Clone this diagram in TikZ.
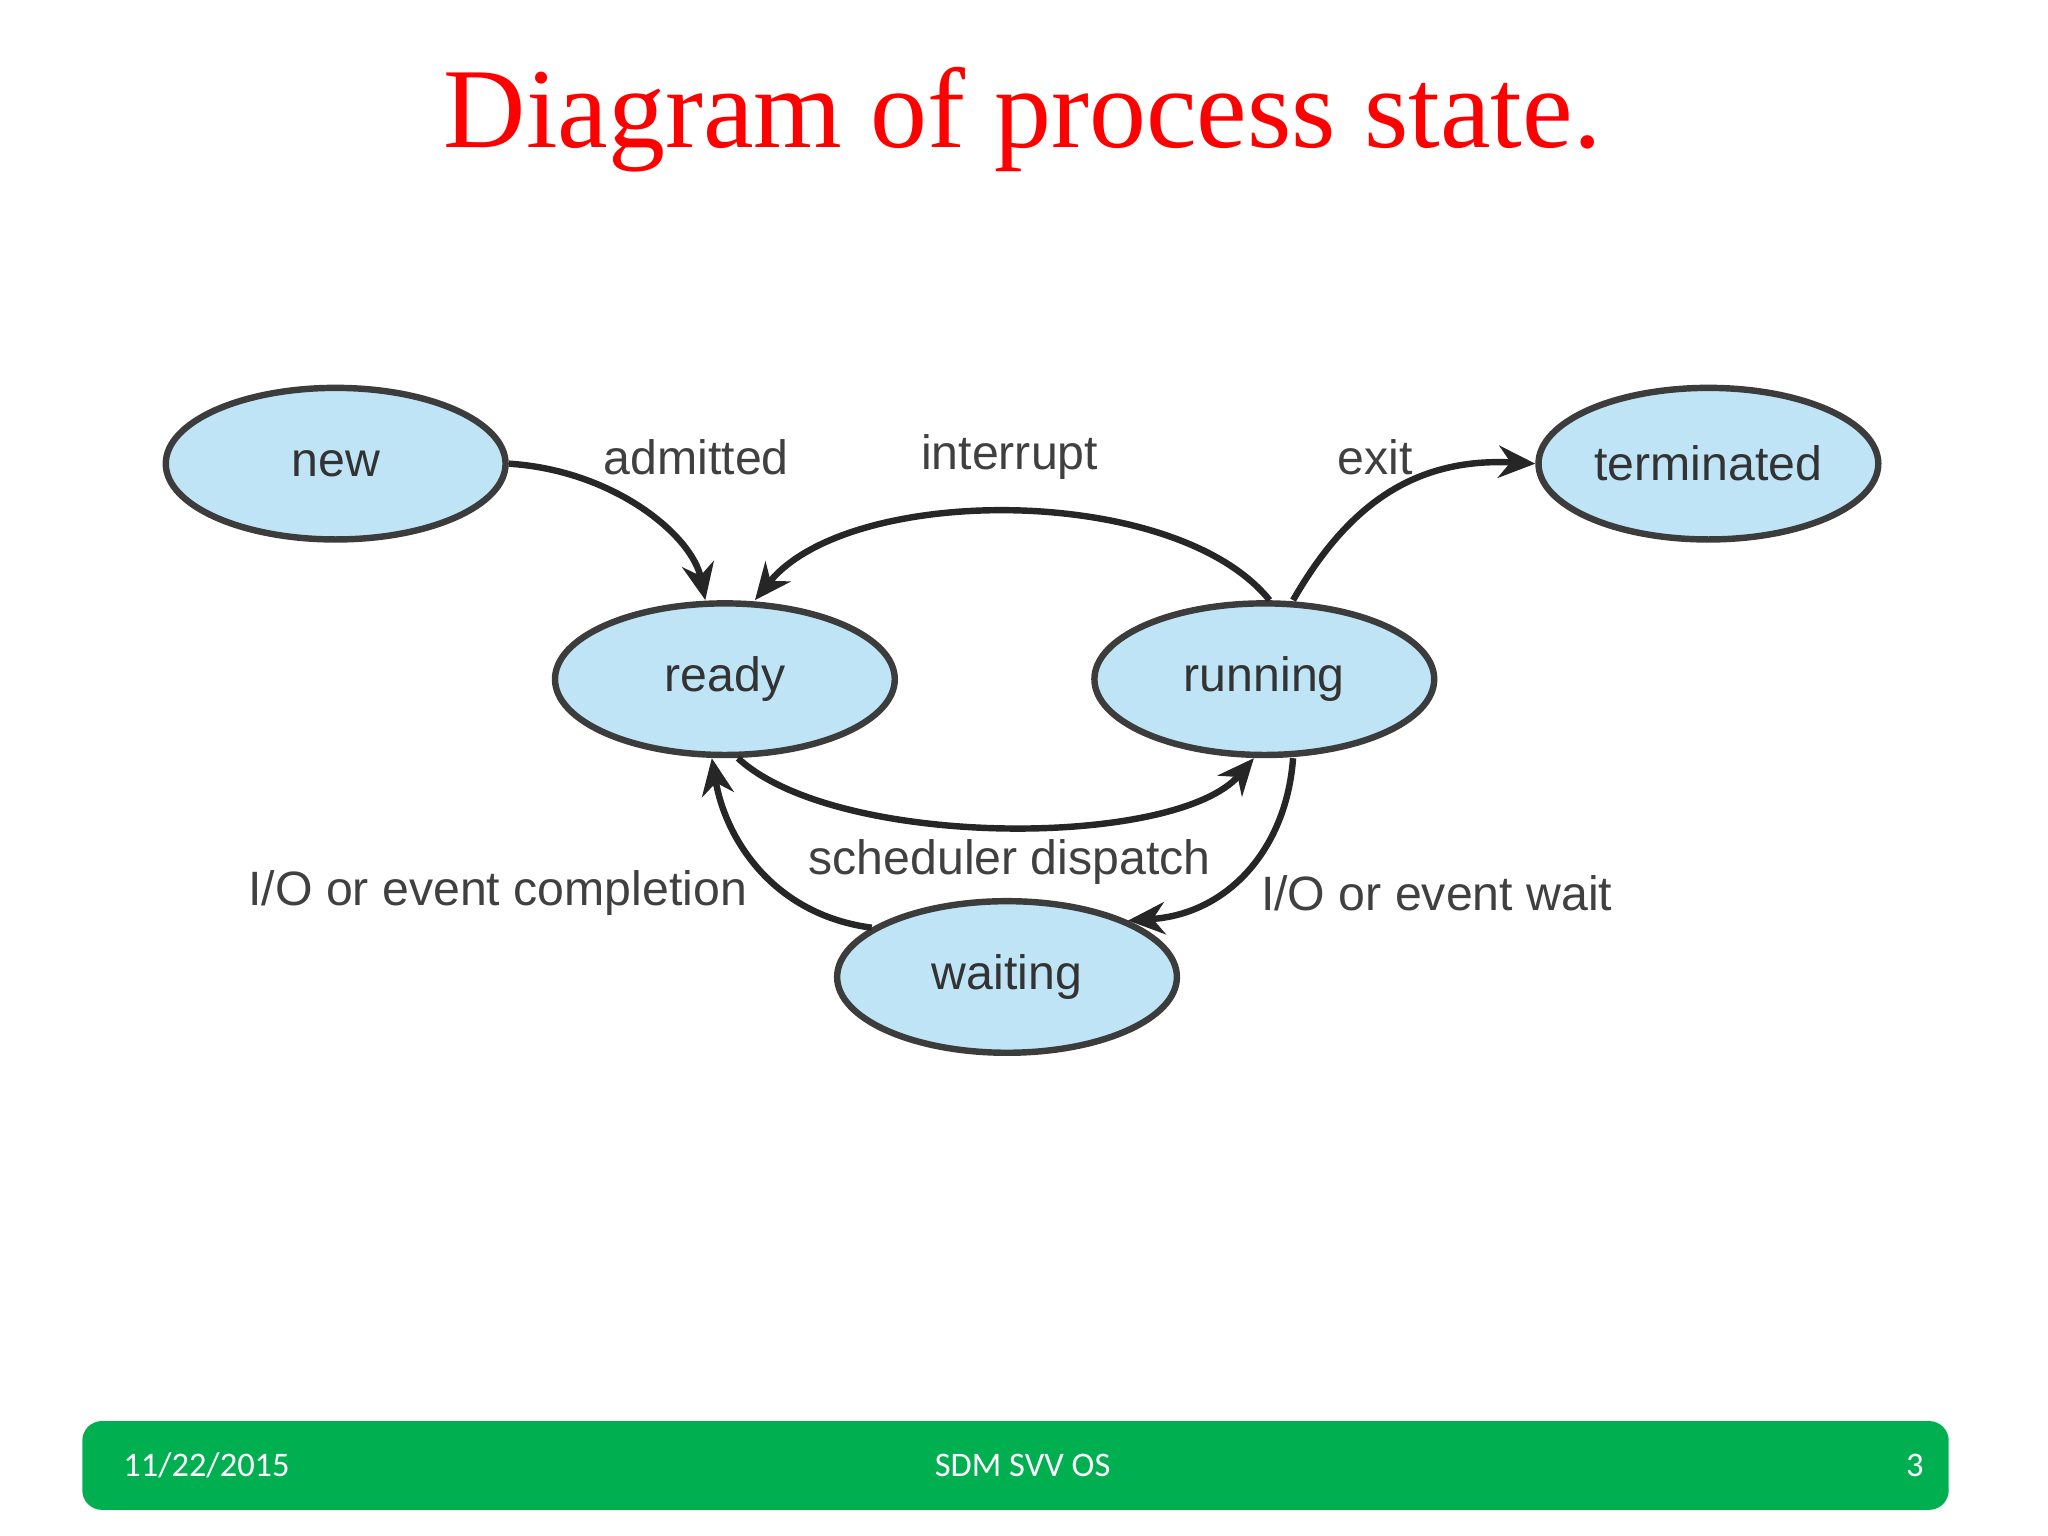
\documentclass[tikz,border=0pt]{standalone}
\usepackage{fontspec}
\setmainfont{Liberation Serif}
\newfontfamily\arialf{Liberation Sans}
\newfontfamily\carf{Carlito}
\usetikzlibrary{shapes.geometric,arrows.meta}
\definecolor{stfill}{RGB}{190,228,245}
\definecolor{stline}{RGB}{60,60,60}
\definecolor{barg}{RGB}{0,176,80}
\tikzset{
 st/.style={ellipse,draw=stline,line width=1.4pt,fill=stfill,inner xsep=0pt,minimum width=2.6cm,minimum height=1.16cm,font=\arialf\fontsize{10.5}{13}\selectfont,text=black!80},
 lbl/.style={font=\arialf\fontsize{10.5}{13}\selectfont,text=black!75},
 tr/.style={draw=black!85,line width=1.4pt,-{Stealth[length=8pt,width=7pt]}}
}
\begin{document}
\begin{tikzpicture}[x=0.01cm,y=-0.01cm]
\useasboundingbox (0,0) rectangle (1568,1176);
\node[text=red,font=\fontsize{24.8}{28}\selectfont] (title) at (783,92) {Diagram of process state.};
\node[st] (new) at (257,355) {new};
\node[st] (term) at (1308,355) {terminated};
\node[st] (ready) at (555,520) {ready};
\node[st] (run) at (968,520) {running};
\node[st] (wait) at (771,748) {waiting};
\draw[tr] (new.east) .. controls (470,360) and (530,410) .. (ready.north -| 540,0);
\draw[tr] (run.north -| 972,0) .. controls (900,370) and (650,370) .. (ready.north -| 578,0);
\draw[tr] (ready.south -| 565,0) .. controls (640,650) and (900,650) .. (run.south -| 960,0);
\draw[tr] (run.south -| 990,0) .. controls (985,650) and (940,700) .. (wait.25);
\draw[tr] (wait.160) .. controls (590,700) and (555,640) .. (ready.south -| 545,0);
\draw[tr] (run.north -| 990,0) .. controls (1030,390) and (1080,350) .. (term.west);
\node[lbl] (l1) at (533,350) {admitted};
\node[lbl] (l2) at (773,350) {interrupt};
\node[lbl] (l3) at (1053,350) {exit};
\node[lbl] (l4) at (773,660) {scheduler dispatch};
\node[lbl] (l5) at (381,684) {I/O or event completion};
\node[lbl] (l6) at (1100,684) {I/O or event wait};
\fill[barg,rounded corners=0.15cm] (63,1088) rectangle (1492,1156);
\node[text=white,font=\carf\fontsize{7.5}{9}\selectfont,anchor=west] (d) at (82,1122) {11/22/2015};
\node[text=white,font=\carf\fontsize{7.5}{9}\selectfont] (c) at (783,1122) {SDM SVV OS};
\node[text=white,font=\carf\fontsize{7.5}{9}\selectfont] (p) at (1466,1122) {3};
\end{tikzpicture}
\end{document}
